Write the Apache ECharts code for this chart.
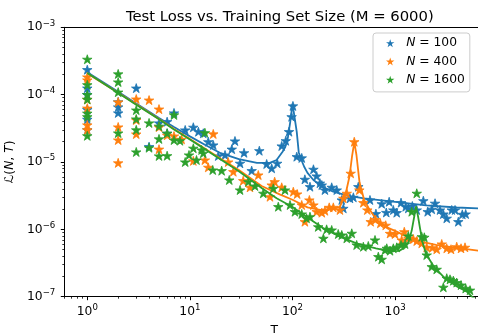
<!DOCTYPE html>
<html>
<head>
<meta charset="utf-8">
<script src="https://cdn.jsdelivr.net/npm/echarts@6/dist/echarts.min.js"></script>
<style>
  html, body { margin: 0; padding: 0; background: #fff; }
  #chart { width: 478px; height: 333px; }
</style>
</head>
<body>
<div id="chart"></div>
<script>
// Measured test loss for three model sizes N: [training set size T, loss]
const points100 = [
  [1,2.35e-4],[1,1.25e-4],[1,1.0e-4],[1,6.0e-5],[1,4.3e-5],[1,3.0e-5],
  [2,7.8e-5],[2,6.56e-5],[2,5.35e-5],[3,1.25e-4],[4,1.69e-5],[5,3.8e-5],
  [6,3.97e-5],[6,2.67e-5],[7,5.35e-5],[9,2.99e-5],[10.8,3.28e-5],[12.1,2.82e-5],
  [13.5,2.67e-5],[15.1,2.0e-5],[16.9,1.79e-5],[18.9,1.23e-5],[22,1.27e-5],
  [25.6,1.55e-5],[27.5,2.05e-5],[30.8,9.57e-6],[33.7,1.37e-5],[40,7.43e-6],
  [47.5,1.47e-5],[56,9.34e-6],[62.7,8.06e-6],[71,9.57e-6],[78.5,1.73e-5],
  [86,2.07e-5],[92.5,2.82e-5],[98,4.7e-5],[101,6.8e-5],[110,1.2e-5],[123,1.15e-5],
  [132,5.53e-6],[148,4.3e-6],[160,7.79e-6],[172,6.2e-6],[185,4.85e-6],[193,4.55e-6],
  [207,3.84e-6],[241,4.21e-6],[270,3.84e-6],[302,2.73e-6],[313,2.05e-6],[363,2.89e-6],
  [392,2.99e-6],[438,4.3e-6],[569,2.73e-6],[650,1.71e-6],[740,2.4e-6],[820,1.78e-6],
  [875,2.57e-6],[961,1.94e-6],[1037,1.77e-6],[1142,2.49e-6],[1269,2.17e-6],
  [1345,2.05e-6],[1472,2.22e-6],[1625,1.94e-6],[1884,2.66e-6],[2078,1.83e-6],
  [2274,1.99e-6],[2450,2.44e-6],[2740,1.94e-6],[2952,1.69e-6],[3186,1.46e-6],
  [3563,1.94e-6],[3837,1.94e-6],[4130,1.3e-6],[4518,1.67e-6],[4873,1.69e-6]
];
const points400 = [
  [1,1.83e-4],[1,1.65e-4],[1,8.5e-5],[1,6.3e-5],[1,3.55e-5],[1,3.0e-5],
  [2,7.78e-5],[2,3.31e-5],[2,2.12e-5],[2,9.7e-6],[3,8.6e-5],[3,4.2e-5],[3,2.6e-5],
  [4,8.3e-5],[5,6.1e-5],[5,3.3e-5],[5,1.55e-5],[6,2.5e-5],[7,2.43e-5],[8.3,2.17e-5],
  [10.8,1.04e-5],[14,1.07e-5],[15.1,8.34e-6],[16.9,2.61e-5],[23.6,1.0e-5],
  [26.5,7.18e-6],[33.1,5.28e-6],[38.5,4.21e-6],[46.4,6.41e-6],[60.3,3.05e-6],
  [62.7,4.55e-6],[67,5.1e-6],[78.5,4.21e-6],[101.8,3.62e-6],[111,3.35e-6],
  [123,2.3e-6],[132,1.3e-6],[146,2.73e-6],[160,2.3e-6],[172,1.83e-6],[193,1.77e-6],
  [207,1.89e-6],[228,2.12e-6],[250,2.12e-6],[290,1.94e-6],[313,2.89e-6],
  [338,3.43e-6],[369,6.8e-6],[400,2.0e-5],[448,3.84e-6],[490,2.49e-6],[536,1.94e-6],
  [578,1.3e-6],[645,1.4e-6],[718,1.23e-6],[810,1.15e-6],[892,8.7e-7],[998,8.53e-7],
  [1159,6.95e-7],[1229,9.22e-7],[1345,7.36e-7],[1504,7.19e-7],[1625,6.71e-7],
  [1817,6.21e-7],[2032,5.41e-7],[2305,5.34e-7],[2543,5.06e-7],[2846,6.06e-7],
  [3186,5.23e-7],[3506,5.06e-7],[3984,5.52e-7],[4389,5.23e-7],[4800,5.41e-7]
];
const points1600 = [
  [1,3.35e-4],[1,1.4e-4],[1,1.0e-4],[1,8.5e-5],[1,5.3e-5],[1,4.7e-5],[1,2.45e-5],
  [2,2.03e-4],[2,1.54e-4],[2,1.09e-4],[2,2.69e-5],[3,5.9e-5],[3,4.35e-5],[3,3.0e-5],
  [3,1.41e-5],[4,3.8e-5],[4,1.63e-5],[5,3.4e-5],[5,2.2e-5],[5,1.23e-5],[6,2.67e-5],
  [6,1.24e-5],[7,5.0e-5],[7,2.12e-5],[8,2.07e-5],[9,1.0e-5],[9.8,1.27e-5],
  [10.8,1.6e-5],[11.6,1.07e-5],[13,1.51e-5],[13.5,1.35e-5],[14,2.72e-5],
  [16.7,7.61e-6],[20.4,7.43e-6],[24.2,5.41e-6],[30.8,3.84e-6],[37.1,5.1e-6],
  [43.1,4.4e-6],[51.9,3.43e-6],[65,4.06e-6],[72.7,2.17e-6],[84.5,3.84e-6],
  [94.6,2.3e-6],[105.7,1.83e-6],[123,1.69e-6],[137,1.46e-6],[148,1.54e-6],
  [178,1.09e-6],[200,7.36e-7],[215,1.0e-6],[241,9.78e-7],[279,8.53e-7],[302,8.24e-7],
  [338,7.36e-7],[378,8.73e-7],[422,5.86e-7],[490,5.52e-7],[548,5.66e-7],[637,6.95e-7],
  [686,3.93e-7],[740,3.59e-7],[798,4.93e-7],[829,5.23e-7],[892,4.82e-7],[961,5.23e-7],
  [1037,5.41e-7],[1142,5.86e-7],[1250,6.06e-7],[1345,7.96e-7],[1453,1.83e-6],
  [1625,3.43e-6],[1817,7.78e-7],[1926,7.62e-7],[2032,4.16e-7],[2274,2.79e-7],
  [2543,2.55e-7],[2952,1.38e-7],[3186,1.88e-7],[3428,1.81e-7],[3693,1.73e-7],
  [3984,1.62e-7],[4389,1.49e-7],[4873,1.33e-7],[5370,1.25e-7]
];

// Theory curves: [T, predicted loss]
const curve100 = [
  [1,2.15e-4],[2,1.1e-4],[3,7.4e-5],[5,4.5e-5],[7,3.3e-5],[10,2.4e-5],[14,1.8e-5],
  [20,1.35e-5],[30,1.1e-5],[45,9.7e-6],[60,9.7e-6],[70,1.07e-5],[80,1.42e-5],
  [85,1.67e-5],[90,2.27e-5],[95,3.9e-5],[100,7.3e-5],[105,4.5e-5],[110,2.8e-5],
  [115,1.4e-5],[120,1.14e-5],[130,8.5e-6],[140,6.9e-6],[160,5.4e-6],[200,4.2e-6],
  [250,3.62e-6],[350,3.13e-6],[500,2.89e-6],[1000,2.56e-6],[2000,2.27e-6],
  [4000,2.11e-6],[7350,2.03e-6]
];
const curve400 = [
  [1,2.07e-4],[2,1.07e-4],[3,7.2e-5],[5,4.35e-5],[7,3.1e-5],[10,2.2e-5],[15,1.48e-5],
  [20,1.12e-5],[30,7.6e-6],[50,4.4e-6],[75,3.3e-6],[100,2.75e-6],[140,2.12e-6],
  [185,1.94e-6],[250,1.99e-6],[290,2.17e-6],[330,3.4e-6],[360,6.2e-6],[380,1.2e-5],
  [400,1.98e-5],[420,1.27e-5],[450,5.0e-6],[500,2.7e-6],[550,2.1e-6],[650,1.42e-6],
  [800,1.1e-6],[1000,9.5e-7],[1500,7.0e-7],[2500,5.9e-7],[4000,5.3e-7],[7350,4.7e-7]
];
const curve1600 = [
  [1,2.09e-4],[2,1.06e-4],[3,7.1e-5],[5,4.3e-5],[7,3.05e-5],[10,2.15e-5],[15,1.45e-5],
  [20,1.09e-5],[30,7.3e-6],[50,4.1e-6],[70,2.9e-6],[100,2.15e-6],[140,1.5e-6],
  [200,1.04e-6],[290,7.8e-7],[420,6.2e-7],[650,5.2e-7],[900,4.7e-7],[1100,4.8e-7],
  [1250,5.4e-7],[1350,6.5e-7],[1450,9.5e-7],[1530,1.5e-6],[1600,2.2e-6],[1680,1.5e-6],
  [1750,1.03e-6],[1850,6.5e-7],[2000,4.3e-7],[2400,2.76e-7],[3000,1.93e-7],
  [4000,1.42e-7],[5000,1.19e-7],[5600,1.0e-7],[7350,8.0e-8]
];

const seriesNames = ['N = 100', 'N = 400', 'N = 1600'];
const seriesColors = ['#1f77b4', '#ff7f0e', '#2ca02c'];
const majorExponentsX = [0, 1, 2, 3];
const majorExponentsY = [-7, -6, -5, -4, -3];

const FONT = 'DejaVu Sans';
const STAR = 'path://M0,-10L2.245,-3.09L9.511,-3.09L3.633,1.18L5.878,8.09L0,3.82L-5.878,8.09L-3.633,1.18L-9.511,-3.09L-2.245,-3.09Z';

// axes are linear in log10 space
const X_MIN = Math.log10(0.597);
const X_MAX = Math.log10(7350);
const Y_MIN = -7, Y_MAX = -3;

function toLog(pts) { return pts.map(p => [Math.log10(p[0]), Math.log10(p[1])]); }

function minorTicks(lo, hi) {
  const out = [];
  for (let e = Math.floor(lo) - 1; e <= Math.ceil(hi); e++) {
    for (let k = 2; k <= 9; k++) {
      const v = e + Math.log10(k);
      if (v >= lo && v <= hi) out.push(v);
    }
  }
  return out;
}

function powLabel(v) {
  const e = Math.round(v);
  const s = e < 0 ? '\u2212' + (-e) : String(e);
  return '{b|10}{s|' + s + '}';
}
const powRich = {
  b: { fontSize: 12.3, lineHeight: 17, fontFamily: FONT, color: '#000' },
  s: { fontSize: 8.6, lineHeight: 10, verticalAlign: 'top', fontFamily: FONT, color: '#000' }
};

const axisBlack = { lineStyle: { color: '#000', width: 1 } };

const xAxes = [
  {
    type: 'value', min: X_MIN, max: X_MAX, position: 'bottom',
    name: 'T', nameLocation: 'middle', nameGap: 28,
    nameTextStyle: { fontSize: 12.3, fontFamily: FONT, color: '#000' },
    axisLine: { show: true, onZero: false, ...axisBlack },
    axisTick: { show: true, length: 3.5, customValues: majorExponentsX, ...axisBlack },
    axisLabel: { customValues: majorExponentsX, margin: 7, formatter: powLabel, rich: powRich },
    splitLine: { show: false }
  },
  {
    type: 'value', min: X_MIN, max: X_MAX, position: 'bottom',
    axisLine: { show: false, onZero: false },
    axisTick: { show: true, length: 2, customValues: minorTicks(X_MIN, X_MAX), lineStyle: { color: '#000', width: 0.8 } },
    axisLabel: { show: false }, splitLine: { show: false }
  },
  {
    type: 'value', min: X_MIN, max: X_MAX, position: 'top',
    axisLine: { show: true, onZero: false, ...axisBlack },
    axisTick: { show: false }, axisLabel: { show: false }, splitLine: { show: false }
  }
];

const yAxes = [
  {
    type: 'value', min: Y_MIN, max: Y_MAX, position: 'left',
    name: '{l|\u2112}{p|(}{i|N}{p|, }{i|T}{p|)}', nameLocation: 'middle', nameGap: 45, nameRotate: 90,
    nameTextStyle: {
      fontFamily: FONT, color: '#000', fontSize: 12.3,
      rich: {
        l: { fontSize: 12.3, fontFamily: FONT, color: '#000' },
        p: { fontSize: 12.3, fontFamily: FONT, color: '#000' },
        i: { fontSize: 12.3, fontFamily: FONT, fontStyle: 'italic', color: '#000' }
      }
    },
    axisLine: { show: true, onZero: false, ...axisBlack },
    axisTick: { show: true, length: 3.5, customValues: majorExponentsY, ...axisBlack },
    axisLabel: { customValues: majorExponentsY, margin: 9, formatter: powLabel, rich: powRich },
    splitLine: { show: false }
  },
  {
    type: 'value', min: Y_MIN, max: Y_MAX, position: 'left',
    axisLine: { show: false, onZero: false },
    axisTick: { show: true, length: 2, customValues: minorTicks(Y_MIN, Y_MAX), lineStyle: { color: '#000', width: 0.8 } },
    axisLabel: { show: false }, splitLine: { show: false }
  }
];

const pointSets = [points100, points400, points1600];
const curveSets = [curve100, curve400, curve1600];
const series = [];
pointSets.forEach((pts, i) => {
  series.push({
    name: seriesNames[i], type: 'scatter', xAxisIndex: 0, yAxisIndex: 0,
    symbol: STAR, symbolSize: 9.5, symbolKeepAspect: true,
    itemStyle: { color: seriesColors[i], borderColor: seriesColors[i], borderWidth: 0.8, opacity: 1 },
    data: toLog(pts), z: 2 + i * 2, silent: true
  });
  series.push({
    name: seriesNames[i] + ' theory', type: 'line', xAxisIndex: 0, yAxisIndex: 0,
    showSymbol: false, symbol: 'none', clip: true,
    lineStyle: { color: seriesColors[i], width: 1.8 },
    data: toLog(curveSets[i]), z: 3 + i * 2, silent: true
  });
});

const chart = echarts.init(document.getElementById('chart'), null, { renderer: 'canvas' });
chart.setOption({
  animation: false,
  backgroundColor: '#fff',
  title: {
    text: 'Test Loss vs. Training Set Size (M = 6000)',
    left: 274.8, top: 5, textAlign: 'center',
    textStyle: { fontSize: 14.8, fontWeight: 'normal', fontFamily: FONT, color: '#000' }
  },
  grid: { left: 64.3, right: -6, top: 27.3, bottom: 36.3, containLabel: false, outerBoundsMode: 'none' },
  xAxis: xAxes,
  yAxis: yAxes,
  legend: {
    orient: 'vertical', left: 373, top: 33, selectedMode: false,
    data: seriesNames.map(n => ({ name: n, icon: STAR })),
    itemWidth: 22, itemHeight: 8, itemGap: 0, symbolKeepAspect: true,
    itemStyle: { borderWidth: 0 },
    padding: [1, 5, 3, 13],
    backgroundColor: 'rgba(255,255,255,0.8)', borderColor: '#cccccc', borderWidth: 1, borderRadius: 3,
    formatter: n => '{i|N}{r|' + n.slice(1) + '}',
    textStyle: {
      fontSize: 12.3, fontFamily: FONT, color: '#000', lineHeight: 18.3,
      rich: {
        i: { fontSize: 12.3, fontFamily: FONT, fontStyle: 'italic', color: '#000', lineHeight: 18.3 },
        r: { fontSize: 12.3, fontFamily: FONT, color: '#000', lineHeight: 18.3 }
      }
    }
  },
  series: series
});
</script>
</body>
</html>
